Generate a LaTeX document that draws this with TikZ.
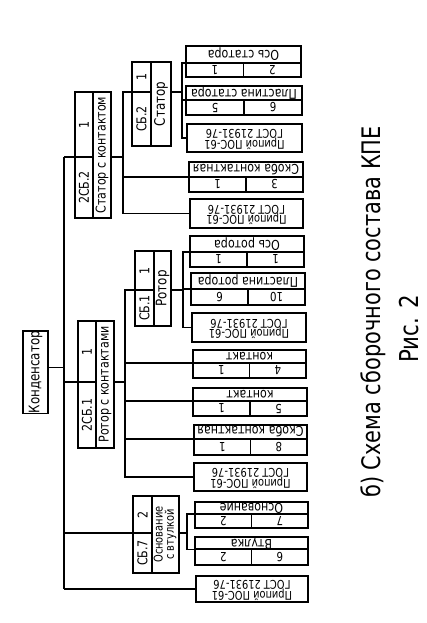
\documentclass[tikz,border=0pt]{standalone}
\usepackage{fontspec}
\usetikzlibrary{calc}
\newfontfamily\gost[FakeStretch=0.82]{DejaVu Sans}
\newcommand\fs[1]{\fontsize{#1}{#1}\selectfont}
\newcommand\lf{\fs{13.5}}
\newcommand\nf{\fs{12.5}}
\newcommand\mf{\fs{13.5}}
% generic box: name, xl, yt, xr, yb, rotation, content
\newcommand{\cellbox}[7]{%
  \pgfmathsetmacro\boxwd{#4-#2}\pgfmathsetmacro\boxht{#5-#3}%
  \node[box, anchor=north west, minimum width=\boxwd pt, minimum height=\boxht pt] (#1) at (#2,#3) {\rotatebox{#6}{#7}};}
% leaf with text row and two cells: name, xl, xr, yt, ydiv, yb, text, left, right
\newcommand{\leafbox}[9]{%
  \pgfmathsetmacro\xmid{(#2+#3)/2}%
  \cellbox{#1t}{#2}{#4}{#3}{#5}{180}{\lf #7}%
  \cellbox{#1l}{#2}{#5}{\xmid}{#6}{180}{\nf #8}%
  \cellbox{#1r}{\xmid}{#5}{#3}{#6}{180}{\nf #9}}
% solder leaf: name, xl, xr, yt, yb
\newcommand{\solderbox}[5]{%
  \cellbox{#1}{#2}{#4}{#3}{#5}{180}{\fs{12}\begin{tabular}{@{}c@{}}Припой ПОС-61\\[-2pt]ГОСТ 21931-76\end{tabular}}}
\begin{document}
\begin{tikzpicture}[x=1pt,y=-1pt,line width=1.35pt,
  box/.style={draw, inner sep=0pt, outer sep=0pt, font=\gost, text=black},
  lbl/.style={inner sep=0pt, font=\gost, text=black}]
\fill[white] (0,0) rectangle (426,623);
\useasboundingbox (0,0) rectangle (426,623);

% root
\cellbox{root}{23}{331}{48}{413}{90}{\fs{14.5}Конденсатор}

% 2СБ.2
\cellbox{s2a}{75}{92}{93}{157}{90}{\mf 1}
\cellbox{s2b}{75}{157}{93}{218}{90}{\mf 2СБ.2}
\cellbox{s2r}{93}{92}{111}{218}{90}{\mf Статор с контактом}
% СБ.2 Статор
\cellbox{st1a}{132}{62}{151}{92}{90}{\mf 1}
\cellbox{st1b}{132}{92}{151}{146}{90}{\mf СБ.2}
\cellbox{st1r}{151}{62}{171}{146}{90}{\fs{14.5}Статор}
% 2СБ.1
\cellbox{r2a}{78}{321}{96}{382}{90}{\mf 1}
\cellbox{r2b}{78}{382}{96}{448}{90}{\mf 2СБ.1}
\cellbox{r2r}{96}{321}{114}{448}{90}{\mf Ротор с контактами}
% СБ.1 Ротор
\cellbox{r1a}{135}{251}{154}{290}{90}{\mf 1}
\cellbox{r1b}{135}{290}{154}{326}{90}{\mf СБ.1}
\cellbox{r1r}{154}{251}{171}{326}{90}{\fs{14.5}Ротор}
% СБ.7
\cellbox{o7a}{133}{496}{152}{533}{90}{\mf 2}
\cellbox{o7b}{133}{533}{152}{573}{90}{\mf СБ.7}
\cellbox{o7r}{152}{496}{179}{573}{90}{\fs{12}\begin{tabular}{@{}c@{}}Основание\\[-1.5pt]с втулкой\end{tabular}}

% leaves
\leafbox{os1}{186}{301}{46}{63}{77}{Ось статора}{1}{2}
\leafbox{pl1}{186}{302}{86}{100}{115}{Пластина статора}{5}{6}
\solderbox{p3}{187}{302}{124}{152}
\leafbox{sk1}{189}{303}{162}{177}{192}{Скоба контактная}{1}{3}
\solderbox{p5}{190}{303}{199}{228}
\leafbox{os2}{190}{304}{236}{252}{267}{Ось ротора}{1}{1}
\leafbox{pl2}{191}{305}{273}{289}{305}{Пластина ротора}{6}{10}
\solderbox{p8}{192}{306}{313}{342}
\leafbox{k4}{193}{306}{350}{363}{378}{контакт}{1}{4}
\leafbox{k5}{193}{307}{388}{401}{416}{контакт}{1}{5}
\leafbox{sk2}{194}{307}{425}{439}{455}{Скоба контактная}{1}{8}
\solderbox{p12}{194}{307}{463}{491}
\leafbox{osn}{195}{308}{502}{514}{528}{Основание}{2}{7}
\leafbox{vt}{195}{308}{537}{549}{565}{Втулка}{2}{6}
\solderbox{p15}{196}{308}{576}{602}

% titles
\node[lbl] (title) at (373,312) {\rotatebox{90}{\fs{25.5}б) Схема сборочного состава КПЕ}};
\node[lbl] (fig) at (409,329) {\rotatebox{90}{\fs{26}Рис. 2}};

% trunk
\coordinate (T1) at (64,157);
\coordinate (T2) at (64,589);
\coordinate (rx) at ($(root.north east)!0.44!(root.south east)$);
\draw (T1) -- (T2);
\draw (rx) -- (rx -| T1);
\draw (s2a.south west) -- (s2a.south west -| T1);
\draw (r2a.south west) -- (r2a.south west -| T1);
\draw (o7a.south west) -- (o7a.south west -| T1);
\draw (T2) -- (p15.west);

% bus of 2СБ.2
\coordinate (B2x) at (123,0);
\draw (st1a.south west) -- (st1a.south west -| B2x) -- (p5.west -| B2x) -- (p5.west);
\draw (s2r.east |- s2a.south) -- (s2a.south -| B2x);
\draw (sk1t.south west) -- (sk1t.south west -| B2x);

% bus of СБ.2 Статор
\coordinate (B3x) at (182,0);
\draw (os1t.south west) -- (os1t.south west -| B3x) -- (p3.west -| B3x) -- (p3.west);
\draw (st1r.east |- st1a.south) -- (st1a.south -| B3x);
\draw (pl1t.south west) -- (pl1t.south west -| B3x);

% bus of 2СБ.1
\coordinate (B1x) at (125,0);
\draw (r1a.south west) -- (r1a.south west -| B1x) -- (p12.west -| B1x) -- (p12.west);
\draw (r2r.east |- r2a.south) -- (r2a.south -| B1x);
\draw (k4t.south west) -- (k4t.south west -| B1x);
\draw (k5t.south west) -- (k5t.south west -| B1x);
\draw (sk2t.south west) -- (sk2t.south west -| B1x);

% bus of СБ.1 Ротор
\coordinate (B4x) at (183,0);
\draw (os2t.south west) -- (os2t.south west -| B4x) -- (p8.west -| B4x) -- (p8.west);
\draw (r1r.east |- r1a.south) -- (r1a.south -| B4x);
\draw (pl2t.south west) -- (pl2t.south west -| B4x);

% bus of СБ.7
\coordinate (B5x) at (187,0);
\draw (osnt.south west) -- (osnt.south west -| B5x) -- (vtt.south west -| B5x) -- (vtt.south west);
\draw (o7r.east |- o7a.south) -- (o7a.south -| B5x);
\end{tikzpicture}
\end{document}
